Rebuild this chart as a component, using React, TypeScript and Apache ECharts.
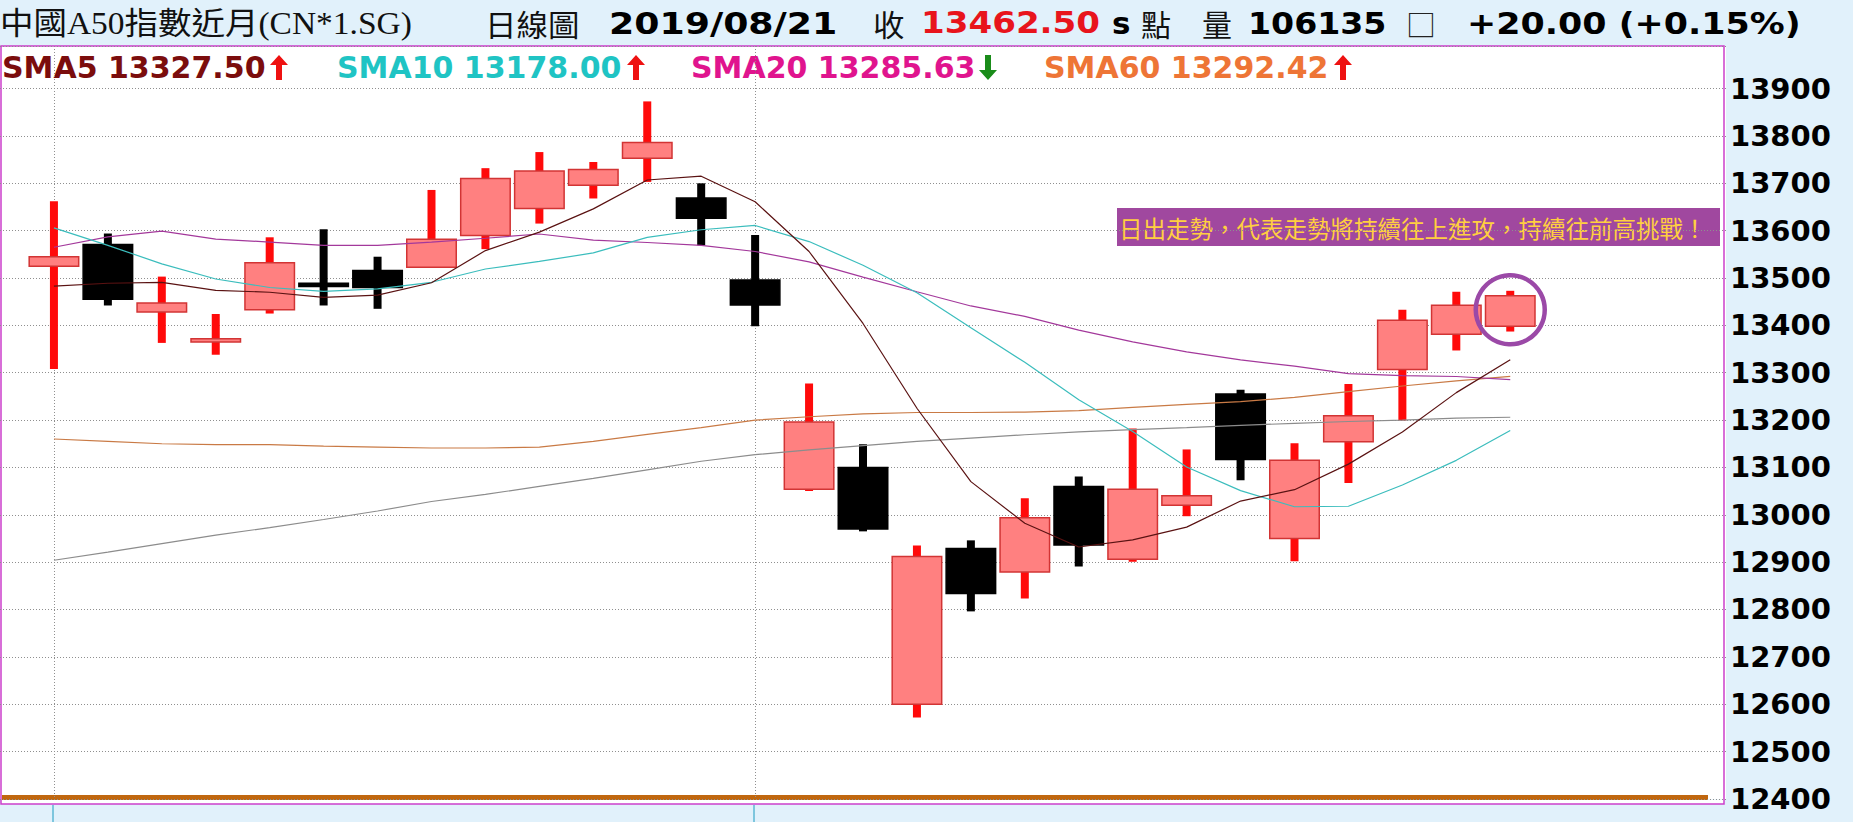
import React, { useEffect, useRef } from 'react';
import * as echarts from 'echarts';

// ---- data ----
const dates = [
  '2019/07/15', '2019/07/16', '2019/07/17', '2019/07/18', '2019/07/19',
  '2019/07/22', '2019/07/23', '2019/07/24', '2019/07/25', '2019/07/26',
  '2019/07/29', '2019/07/30', '2019/07/31', '2019/08/01', '2019/08/02',
  '2019/08/05', '2019/08/06', '2019/08/07', '2019/08/08', '2019/08/09',
  '2019/08/12', '2019/08/13', '2019/08/14', '2019/08/15', '2019/08/16',
  '2019/08/19', '2019/08/20', '2019/08/21',
];
const opens = [13525, 13571, 13428, 13365, 13433, 13489, 13516, 13523, 13590, 13647, 13696, 13753, 13669, 13496, 13054, 13100, 12600, 12929, 12879, 13060, 12906, 13020, 13255, 12950, 13154, 13307, 13381, 13398];
const closes = [13545, 13455, 13447, 13372, 13532, 13482, 13480, 13582, 13710, 13726, 13729, 13786, 13626, 13443, 13196, 12970, 12912, 12834, 12994, 12936, 13054, 13040, 13117, 13115, 13209, 13411, 13442.5, 13462.5];
const lows = [13308, 13442, 13363, 13338, 13425, 13442, 13435, 13523, 13561, 13615, 13668, 13703, 13569, 13398, 13050, 12965, 12572, 12796, 12823, 12891, 12901, 12997, 13073, 12902, 13067, 13199, 13347, 13387];
const highs = [13662, 13594, 13503, 13424, 13586, 13603, 13545, 13686, 13732, 13766, 13745, 13873, 13700, 13591, 13277, 13149, 12935, 12946, 13035, 13081, 13182, 13138, 13264, 13151, 13276, 13433, 13471, 13473];

const sma5 = [13483, 13489, 13491, 13474, 13470, 13459, 13464, 13490, 13558, 13597, 13646, 13707, 13715, 13661, 13556, 13404, 13225, 13070, 12982, 12932, 12947, 12974, 13029, 13053, 13107, 13175, 13258, 13327.5];
const sma10 = [13606, 13569, 13530, 13498, 13480, 13472, 13477, 13491, 13519, 13535, 13553, 13586, 13602, 13611, 13577, 13527, 13469, 13395, 13322, 13243, 13176, 13101, 13051, 13017, 13018, 13063, 13115, 13178];
const sma20 = [13565, 13587, 13599, 13582, 13576, 13569, 13569, 13576, 13584, 13593, 13580, 13575, 13569, 13556, 13534, 13502, 13471, 13441, 13419, 13390, 13365, 13344, 13327, 13314, 13298, 13294, 13292, 13285.63];
const sma60 = [13160, 13155, 13150, 13148, 13148, 13145, 13143, 13141, 13141, 13143, 13155, 13170, 13184, 13200, 13207, 13213, 13216, 13216, 13217, 13220, 13227, 13233, 13239, 13248, 13260, 13272, 13283, 13292.42];
const sma120 = [12904, 12921, 12939, 12957, 12973, 12990, 13008, 13028, 13043, 13060, 13077, 13095, 13113, 13127, 13137, 13146, 13155, 13162, 13169, 13175, 13180, 13184, 13189, 13193, 13197, 13200, 13204, 13206];

const highlightDate = '2019/08/21';
const highlightValue = 13433;
const markedDates = ['2019/07/15', '2019/08/01'];

const legendItems = [
  { label: 'SMA5 13327.50', color: '#7b0d0d', arrow: 'up' },
  { label: 'SMA10 13178.00', color: '#1fc4c4', arrow: 'up' },
  { label: 'SMA20 13285.63', color: '#e0148e', arrow: 'down' },
  { label: 'SMA60 13292.42', color: '#ee7536', arrow: 'up' },
];
const titleName = '中國A50指數近月(CN*1.SG)';
const titleKind = '日線圖';
const titleDate = '2019/08/21';
const titleClose = '13462.50';
const titleVolume = '106135';
const titleChange = '+20.00 (+0.15%)';
const note = '日出走勢，代表走勢將持續往上進攻，持續往前高挑戰！';

// padding categories so the candle spacing matches the picture
const categories = ['pad0', ...dates, 'pad1', 'pad2', 'pad3', 'pad4'];
const candleData = dates.map((d, i) => [i + 1, opens[i], closes[i], lows[i], highs[i]]);
const toLine = (arr: number[]) => arr.map((v, i) => [i + 1, v]);

export default function App() {
  const ref = useRef<HTMLDivElement>(null);
  useEffect(() => {
    document.body.style.margin = '0';
    const chart = echarts.init(ref.current as HTMLDivElement, null, { renderer: 'svg' });

    const BIG = 'bold 31px "DejaVu Sans"';
    const CJK = '30px "Noto Sans CJK TC"';
    const TY = 23;
    const txt = (x: number, y: number, text: string, font: string, fill: string, scaleX = 1) => ({
      type: 'text', x, y, scaleX, silent: true,
      style: { text, font, fill, textVerticalAlign: 'middle', verticalAlign: 'middle' },
    });
    const arrow = (cx: number, dir: string, fill: string) => {
      const t = 55, b = 80, hb = dir === 'up' ? 65 : 70;
      const pts = dir === 'up'
        ? [[cx, t], [cx + 9, hb], [cx + 3, hb], [cx + 3, b], [cx - 3, b], [cx - 3, hb], [cx - 9, hb]]
        : [[cx, b], [cx + 9, hb], [cx + 3, hb], [cx + 3, t], [cx - 3, t], [cx - 3, hb], [cx - 9, hb]];
      return { type: 'polygon', silent: true, shape: { points: pts }, style: { fill } };
    };
    const legendX = [2, 337, 691, 1044];
    const arrowX = [279, 636, 988, 1343];

    const graphic: any[] = [
      { type: 'rect', silent: true, shape: { x: 1, y: 799.5, width: 1723, height: 4.5 }, style: { fill: '#ffffff' } },
      { type: 'rect', silent: true, shape: { x: 2, y: 795, width: 1706, height: 5 }, style: { fill: '#c0670f' } },
      { type: 'rect', silent: true, shape: { x: 1, y: 46, width: 1723, height: 758 }, style: { fill: 'none', stroke: '#cc3fcc', lineWidth: 1.5 } },
      { type: 'line', silent: true, shape: { x1: 53, y1: 805, x2: 53, y2: 822 }, style: { stroke: '#1a9bc0', lineWidth: 1 } },
      { type: 'line', silent: true, shape: { x1: 754, y1: 805, x2: 754, y2: 822 }, style: { stroke: '#1a9bc0', lineWidth: 1 } },
      txt(0, TY, titleName, '31px "Liberation Serif", "Noto Sans CJK TC"', '#111111', 1.08),
      txt(485, TY, titleKind, CJK, '#111111', 1.05),
      txt(609, TY, titleDate, BIG, '#000000', 1.17),
      txt(873, TY, '收', CJK, '#111111', 1.05),
      txt(921, TY, titleClose, BIG, '#e8141c', 1.1),
      txt(1112, TY, 's', BIG, '#000000'),
      txt(1141, TY, '點', CJK, '#111111'),
      txt(1202, TY, '量', CJK, '#111111'),
      txt(1248, TY, titleVolume, BIG, '#000000', 1.07),
      txt(1406, TY, '□', CJK, '#222222'),
      txt(1467, TY, titleChange, BIG, '#000000', 1.125),
      ...legendItems.map((it, i) => txt(legendX[i], 67.5, it.label, 'bold 30px "DejaVu Sans"', it.color)),
      ...legendItems.map((it, i) => arrow(arrowX[i], it.arrow, it.arrow === 'up' ? '#ee1111' : '#1a8c1a')),
      { type: 'rect', silent: true, shape: { x: 1117, y: 208, width: 603, height: 38 }, style: { fill: '#a0489f' } },
      txt(1119, 227.5, note, '23.5px "Noto Sans CJK TC"', '#ffcf40'),
    ];

    const lineS = (name: string, data: number[], color: string, extra: any = {}) => ({
      type: 'line', name, data: toLine(data), symbol: 'none', z: 3, silent: true,
      lineStyle: { color, width: 1.2 }, ...extra,
    });

    const option: any = {
      animation: false,
      backgroundColor: '#e1f1fb',
      grid: { left: -2, right: 127, top: 46, bottom: 822 - 798.9, show: true, backgroundColor: '#ffffff', borderWidth: 0 },
      xAxis: {
        type: 'category', data: categories, boundaryGap: false,
        axisLine: { show: false }, axisTick: { show: false }, axisLabel: { show: false },
        splitLine: {
          show: true,
          interval: (idx: number) => markedDates.indexOf(categories[idx]) >= 0,
          lineStyle: { color: '#8f8f8f', type: [1, 2], width: 1 },
        },
      },
      yAxis: {
        type: 'value', position: 'right', min: 12400, max: 13990, interval: 100,
        axisLine: { show: false }, axisTick: { show: false },
        axisLabel: {
          margin: 4, showMaxLabel: false, color: '#000000', fontFamily: 'DejaVu Sans', fontWeight: 'bold', fontSize: 29,
          formatter: (v: number) => String(v),
        },
        splitLine: { show: true, lineStyle: { color: '#8f8f8f', type: [1, 2], width: 1 } },
      },
      series: [
        {
          type: 'custom', name: 'K', data: candleData, z: 2, silent: true,
          encode: { x: 0, y: [1, 2, 3, 4] },
          renderItem: (params: any, api: any) => {
            const x = api.value(0);
            const o = api.value(1), c = api.value(2), l = api.value(3), h = api.value(4);
            const pO = api.coord([x, o]);
            const pC = api.coord([x, c]);
            const pL = api.coord([x, l]);
            const pH = api.coord([x, h]);
            const up = c >= o;
            const bw = 49.5, ww = 8;
            const top = Math.min(pO[1], pC[1]);
            const bot = Math.max(pO[1], pC[1]);
            return {
              type: 'group',
              children: [
                { type: 'rect', shape: { x: pH[0] - ww / 2, y: pH[1], width: ww, height: pL[1] - pH[1] }, style: { fill: up ? '#ff0a0a' : '#000000' } },
                {
                  type: 'rect', shape: { x: pO[0] - bw / 2, y: top, width: bw, height: Math.max(bot - top, 1.5) },
                  style: { fill: up ? '#ff8080' : '#000000', stroke: up ? '#d23434' : '#000000', lineWidth: 1.5 },
                },
              ],
            };
          },
        },
        lineS('SMA120', sma120, '#8c8c8c'),
        lineS('SMA60', sma60, '#c97a45'),
        lineS('SMA20', sma20, '#a3389b'),
        lineS('SMA10', sma10, '#3bbdbd'),
        lineS('SMA5', sma5, '#5a1212', {
          markPoint: {
            silent: true, symbol: 'circle', symbolSize: 69,
            label: { show: false },
            itemStyle: { color: 'rgba(0,0,0,0)', borderColor: '#9b49a7', borderWidth: 4.5 },
            data: [{ coord: [highlightDate, highlightValue] }],
          },
        }),
      ],
      graphic,
    };
    chart.setOption(option);
    return () => chart.dispose();
  }, []);
  return <div ref={ref} style={{ width: 1853, height: 822 }} />;
}
